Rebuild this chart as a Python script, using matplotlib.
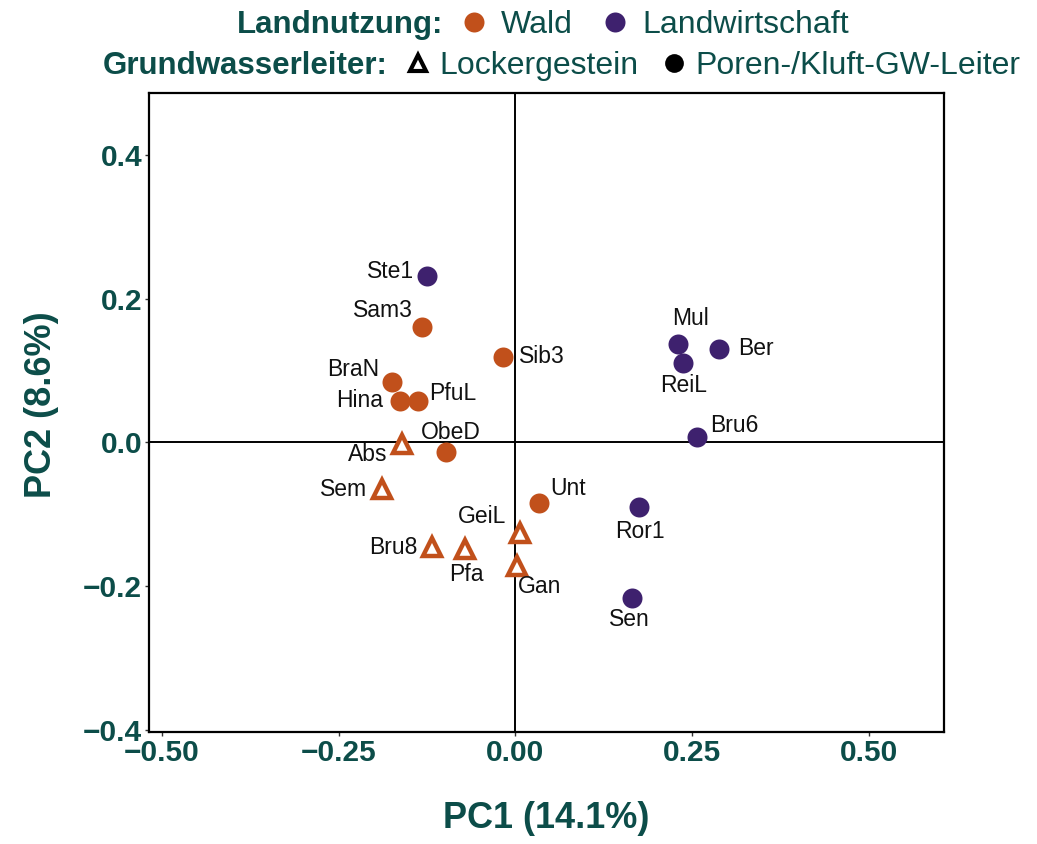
import matplotlib
matplotlib.use("Agg")
import matplotlib.pyplot as plt
from matplotlib.lines import Line2D

plt.rcParams['font.family'] = ['Liberation Sans', 'DejaVu Sans']

# ---- data ----
sites = ["Ste1", "Sam3", "Sib3", "BraN", "Hina", "PfuL", "ObeD", "Abs", "Sem",
         "Bru8", "Pfa", "GeiL", "Gan", "Unt", "Mul", "ReiL", "Ber", "Bru6", "Ror1", "Sen"]
pc1 = [-0.125, -0.132, -0.018, -0.174, -0.163, -0.137, -0.098, -0.161, -0.188,
       -0.118, -0.071, 0.006, 0.002, 0.033, 0.230, 0.237, 0.288, 0.257, 0.175, 0.165]
pc2 = [0.232, 0.160, 0.119, 0.084, 0.058, 0.058, -0.014, -0.002, -0.065,
       -0.146, -0.148, -0.126, -0.172, -0.084, 0.137, 0.110, 0.130, 0.008, -0.090, -0.216]
landuse = ["Landwirtschaft", "Wald", "Wald", "Wald", "Wald", "Wald", "Wald", "Wald", "Wald",
           "Wald", "Wald", "Wald", "Wald", "Wald", "Landwirtschaft", "Landwirtschaft",
           "Landwirtschaft", "Landwirtschaft", "Landwirtschaft", "Landwirtschaft"]
aquifer = ["Poren", "Poren", "Poren", "Poren", "Poren", "Poren", "Poren", "Locker", "Locker",
           "Locker", "Locker", "Locker", "Locker", "Poren", "Poren", "Poren",
           "Poren", "Poren", "Poren", "Poren"]
# label offsets (pixels) and alignment
label_off = {
    "Ste1": (-13, 4, "right"), "Sam3": (-9, 17, "right"), "Sib3": (16, 0, "left"),
    "BraN": (-13, 12, "right"), "Hina": (-17, 0, "right"), "PfuL": (11, 7, "left"),
    "ObeD": (5, 20, "center"), "Abs": (-14, -11, "right"), "Sem": (-15, 0, "right"),
    "Bru8": (-14, 0, "right"), "Pfa": (1, -26, "center"), "GeiL": (-13, 16, "right"),
    "Gan": (1, -21, "left"), "Unt": (12, 14, "left"), "Mul": (12, 25, "center"),
    "ReiL": (1, -22, "center"), "Ber": (19, 0, "left"), "Bru6": (13, 11, "left"),
    "Ror1": (1, -24, "center"), "Sen": (-3, -22, "center"),
}

xticks = [-0.50, -0.25, 0.00, 0.25, 0.50]
yticks = [-0.4, -0.2, 0.0, 0.2, 0.4]

col = {"Wald": "#C1501B", "Landwirtschaft": "#3E216E"}
teal = "#0C4D49"

fig = plt.figure(figsize=(10.37, 8.44), dpi=100)
ax = fig.add_axes([149/1037, 1-732/844, (944-149)/1037, (732-93)/844])
ax.set_xlim(-0.518, 0.606)
ax.set_ylim(-0.403, 0.486)

ax.axhline(0, color="black", lw=1.4, zorder=1)
ax.axvline(0, color="black", lw=1.4, zorder=1)

for i, s in enumerate(sites):
    c = col[landuse[i]]
    if aquifer[i] == "Locker":
        ax.plot(pc1[i], pc2[i], marker="^", ms=13, mfc="white", mec=c, mew=3.2,
                linestyle="none", zorder=3)
    else:
        ax.plot(pc1[i], pc2[i], marker="o", ms=14.4, mfc=c, mec=c, mew=0,
                linestyle="none", zorder=3)
    dx, dy, ha = label_off[s]
    ax.annotate(s, (pc1[i], pc2[i]), xytext=(dx, dy), textcoords="offset pixels",
                ha=ha, va="center", fontsize=16.5, color="#111111", zorder=4)

ax.set_xticks(xticks)
ax.set_xticklabels(["\u22120.50", "\u22120.25", "0.00", "0.25", "0.50"])
ax.set_yticks(yticks)
ax.set_yticklabels(["\u22120.4", "\u22120.2", "0.0", "0.2", "0.4"])
ax.tick_params(axis="both", length=3, width=1, color="#333333", labelsize=21.5,
               labelcolor=teal, pad=2)
for lab in ax.get_xticklabels() + ax.get_yticklabels():
    lab.set_fontweight("bold")
for sp in ax.spines.values():
    sp.set_linewidth(1.6)
    sp.set_color("black")

fig.text(546/1037, 1-818/844, "PC1 (14.1%)", ha="center", va="center",
         fontsize=26, fontweight="bold", color=teal)
fig.text(42/1037, 1-405/844, "PC2 (8.6%)", ha="center", va="center", rotation=90,
         fontsize=26, fontweight="bold", color=teal)

# ---- legends ----
h_wald = Line2D([], [], marker="o", ms=14.4, mfc=col["Wald"], mec=col["Wald"], mew=0, linestyle="none")
h_lw = Line2D([], [], marker="o", ms=14.4, mfc=col["Landwirtschaft"], mec=col["Landwirtschaft"], mew=0, linestyle="none")
h_lock = Line2D([], [], marker="^", ms=11, mfc="white", mec="black", mew=3, linestyle="none")
h_por = Line2D([], [], marker="o", ms=13.5, mfc="black", mec="black", mew=0, linestyle="none")

y1 = 1 - 25 / 844
y2 = 1 - 66 / 844
fig.text(237/1037, y1, "Landnutzung:", ha="left", va="center", fontsize=22.5,
         fontweight="bold", color=teal)
fig.text(103/1037, y2, "Grundwasserleiter:", ha="left", va="center", fontsize=22.5,
         fontweight="bold", color=teal)

common = dict(frameon=False, fontsize=23, handlelength=0.8,
              borderpad=0, borderaxespad=0, labelcolor=teal, loc="center left", ncol=2)
leg1 = fig.legend([h_wald, h_lw], ["Wald", "Landwirtschaft"], columnspacing=0.94,
                  handletextpad=0.44, bbox_to_anchor=(461 / 1037, y1), **common)
leg2 = fig.legend([h_lock, h_por], ["Lockergestein", "Poren-/Kluft-GW-Leiter"],
                  columnspacing=0.70, handletextpad=0.28,
                  bbox_to_anchor=(405 / 1037, y2), **common)

fig.savefig("out.png", dpi=100)
